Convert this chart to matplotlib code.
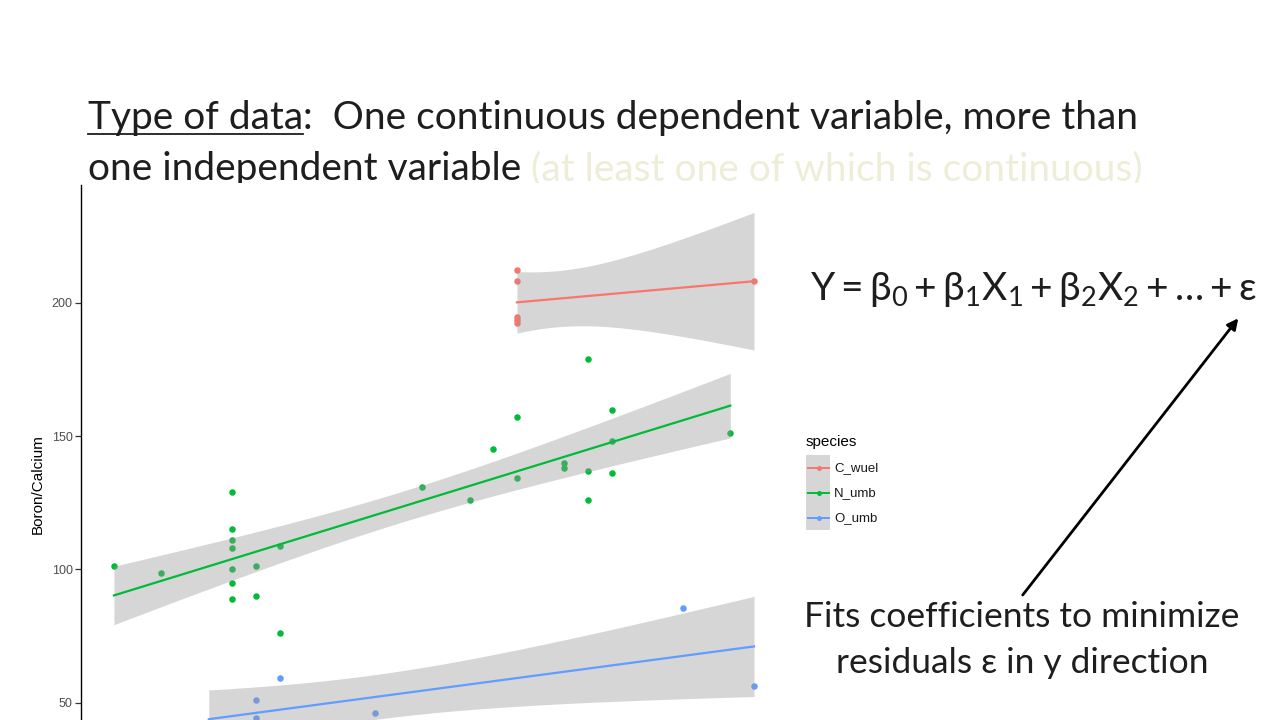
import numpy as np
import matplotlib
matplotlib.use('Agg')
import matplotlib.pyplot as plt
from matplotlib.lines import Line2D
from matplotlib.patches import Rectangle, FancyArrowPatch

# ---------------- data ----------------
species = ['C_wuel', 'N_umb', 'O_umb']
colors = ['#F8766D', '#00BA38', '#619CFF']

c_wuel_x = [27, 27, 27, 27, 27, 37]
c_wuel_y = [212.3, 208.1, 194.5, 193.5, 192.5, 208.1]

n_umb_x = [10, 12, 15, 15, 15, 15, 15, 15, 15, 16, 16, 17, 17, 23, 25, 26,
           27, 27, 29, 29, 30, 30, 30, 31, 31, 31, 36]
n_umb_y = [101.4, 98.5, 129.1, 115.3, 111.1, 108.1, 100.3, 95.0, 89.0, 101.4,
           90.1, 108.9, 76.3, 131.0, 126.1, 145.3, 157.3, 134.4, 140.0, 138.1,
           137.0, 126.1, 179.0, 159.9, 148.2, 136.2, 151.3]

o_umb_x = [14, 15, 16, 16, 17, 17, 21, 34, 37]
o_umb_y = [41.6, 40.0, 51.1, 44.3, 59.3, 42.3, 46.3, 85.4, 56.4]

y_ticks = [50, 100, 150, 200]
y_label = 'Boron/Calcium'

# two-sided 95% t quantiles by degrees of freedom
T975 = {4: 2.776, 6: 2.447, 7: 2.365, 25: 2.060}

groups = [(c_wuel_x, c_wuel_y), (n_umb_x, n_umb_y), (o_umb_x, o_umb_y)]

# ---------------- figure ----------------
W, H = 1280, 720
fig = plt.figure(figsize=(12.8, 7.2), dpi=100)
fig.patch.set_facecolor('white')

slide_font = ['Lato', 'DejaVu Sans']
plot_font = ['Liberation Sans', 'DejaVu Sans']
plt.rcParams['mathtext.fontset'] = 'custom'
plt.rcParams['mathtext.rm'] = 'Lato'
plt.rcParams['mathtext.it'] = 'Lato:italic'
plt.rcParams['mathtext.bf'] = 'Lato:bold'
txt_col = '#1e1e1e'


def fx(px):
    return px / W


def fy(py):
    return 1 - py / H


# axes: panel spans x 81..786 px, y 185..784 px (bottom is off-slide)
ax = fig.add_axes([fx(81), fy(784), (786 - 81) / W, (784 - 185) / H])
ax.set_zorder(1)
ax.set_xlim(8.61, 38.35)
ax.set_ylim(19.5, 244.2)

for (xs, ys), col in zip(groups, colors):
    xs = np.asarray(xs, float)
    ys = np.asarray(ys, float)
    ax.scatter(xs, ys, s=22, color=col, zorder=2, linewidths=0)
    n = len(xs)
    b1, b0 = np.polyfit(xs, ys, 1)
    resid = ys - (b0 + b1 * xs)
    s = np.sqrt(np.sum(resid ** 2) / (n - 2))
    sxx = np.sum((xs - xs.mean()) ** 2)
    xg = np.linspace(xs.min(), xs.max(), 80)
    yg = b0 + b1 * xg
    se = s * np.sqrt(1 / n + (xg - xs.mean()) ** 2 / sxx)
    t = T975[n - 2]
    ax.fill_between(xg, yg - t * se, yg + t * se, color='#999999', alpha=0.4,
                    linewidth=0, zorder=3)
    ax.plot(xg, yg, color=col, lw=1.6, zorder=4)

for sp in ['top', 'right', 'bottom']:
    ax.spines[sp].set_visible(False)
ax.spines['left'].set_color('black')
ax.spines['left'].set_linewidth(1.0)
ax.set_xticks([])
ax.set_yticks(y_ticks)
ax.set_yticklabels([str(v) for v in y_ticks], family=plot_font, fontsize=9,
                   color='#4d4d4d')
ax.tick_params(axis='y', length=4, width=0.9, color='#333333', pad=2)
ax.set_ylabel(y_label, family=plot_font, fontsize=11, color='black', labelpad=5)
ax.patch.set_alpha(0)

# ---------------- legend ----------------
fig.text(fx(806), fy(442), 'species', family=plot_font, fontsize=11,
         color='black', va='center', ha='left')
fig.add_artist(Rectangle((fx(806), fy(530)), 24 / W, 75 / H,
                         transform=fig.transFigure, color='#d6d6d6', lw=0))
for i, (sp, col) in enumerate(zip(species, colors)):
    yy = fy(468 + 25 * i)
    fig.add_artist(Line2D([fx(808), fx(829)], [yy, yy], color=col, lw=1.4,
                          transform=fig.transFigure))
    fig.add_artist(Line2D([fx(818.5)], [yy], color=col, marker='o', ms=3.6,
                          mec='none', transform=fig.transFigure))
    fig.text(fx(834), yy, sp, family=plot_font, fontsize=9.5, color='#1a1a1a',
             va='center', ha='left')

# ---------------- slide text ----------------
title_size = 28
t_pre = fig.text(fx(88), fy(129), 'Type of data', family=slide_font,
                 fontsize=title_size, color=txt_col, va='baseline', ha='left')
l2a = fig.text(fx(88), fy(180), 'one independent variable', family=slide_font,
               fontsize=title_size, color=txt_col, va='baseline', ha='left',
               zorder=0.5)
fig.canvas.draw()
r = fig.canvas.get_renderer()
bb = t_pre.get_window_extent(r)
fig.text(bb.x1 / W, fy(129), ':  One continuous dependent variable, more than',
         family=slide_font, fontsize=title_size, color=txt_col,
         va='baseline', ha='left')
fig.add_artist(Line2D([bb.x0 / W, bb.x1 / W], [fy(134), fy(134)], color=txt_col,
                      lw=1.3, transform=fig.transFigure))
bb2 = l2a.get_window_extent(r)
fig.text(bb2.x1 / W + 10 / W, fy(180), '(at least one of which is continuous)',
         family=slide_font, fontsize=title_size, color='#eeeed8',
         va='baseline', ha='left', zorder=0.5)
# the plot image covers the lower half of the second title line
fig.add_artist(Rectangle((fx(60), 0), (1170 - 60) / W, fy(183),
                         transform=fig.transFigure, color='white', lw=0,
                         zorder=0.8))

fig.text(fx(810), fy(300),
         r'$\mathrm{Y = β_0 + β_1X_1 + β_2X_2 + … + ε}$',
         fontsize=28, color=txt_col, va='baseline', ha='left')

fig.text(fx(1021.5), fy(627), 'Fits coefficients to minimize',
         family=slide_font, fontsize=25.5, color=txt_col, va='baseline',
         ha='center')
fig.text(fx(1022.5), fy(673), 'residuals ε in y direction',
         family=slide_font, fontsize=25.5, color=txt_col, va='baseline',
         ha='center')

fig.add_artist(FancyArrowPatch((fx(1022.7), fy(595)), (fx(1238.3), fy(318.3)),
                               transform=fig.transFigure, arrowstyle='-|>',
                               mutation_scale=16, lw=2, color='black',
                               shrinkA=0, shrinkB=0))

fig.savefig('out.png', dpi=100, facecolor='white')
